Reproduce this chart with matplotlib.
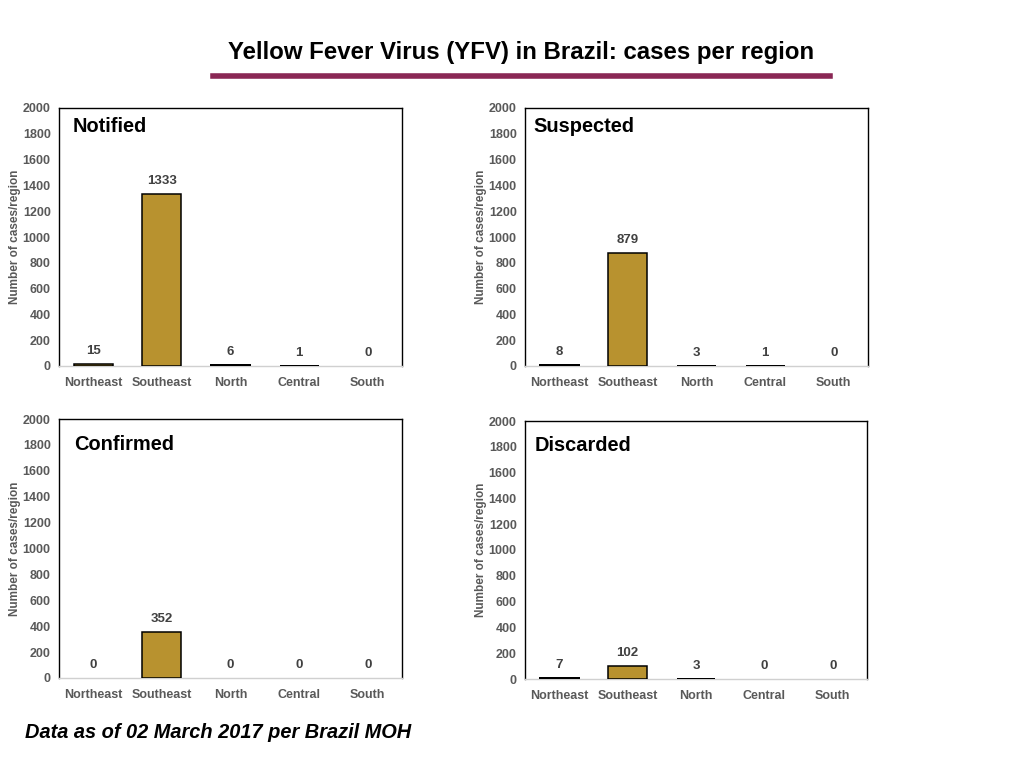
import matplotlib
matplotlib.use("Agg")
import matplotlib.pyplot as plt
from matplotlib.lines import Line2D

regions = ["Northeast", "Southeast", "North", "Central", "South"]
notified = [15, 1333, 6, 1, 0]
suspected = [8, 879, 3, 1, 0]
confirmed = [0, 352, 0, 0, 0]
discarded = [7, 102, 3, 0, 0]
yticks = list(range(0, 2001, 200))

title = "Yellow Fever Virus (YFV) in Brazil: cases per region"
footer = "Data as of 02 March 2017 per Brazil MOH"
ylabel = "Number of cases/region"

BAR = "#B8922F"
GREY = "#595959"
FONT = "Liberation Sans"

fig = plt.figure(figsize=(10.24, 7.68), dpi=100)

panels = [
    ("Notified", notified, [59, 108, 402, 366], (0.04, 0.93)),
    ("Suspected", suspected, [525, 108, 868, 366], (0.025, 0.93)),
    ("Confirmed", confirmed, [59, 419, 402, 678], (0.045, 0.90)),
    ("Discarded", discarded, [525, 421, 867, 679], (0.028, 0.905)),
]

W, H = 1024, 768
for name, vals, (x0, y0, x1, y1), (tx, ty) in panels:
    ax = fig.add_axes([x0 / W, 1 - y1 / H, (x1 - x0) / W, (y1 - y0) / H])
    xs = range(len(regions))
    bars = ax.bar(xs, vals, width=0.57, color=BAR, edgecolor="black", linewidth=1.1, zorder=3)
    for b, v in zip(bars, vals):
        if v == 0:
            b.set_visible(False)
        elif v < 10:
            b.set_antialiased(False)
        ax.annotate(str(v), (b.get_x() + b.get_width() / 2, v), xytext=(0, 5),
                    textcoords="offset points", ha="center", va="bottom",
                    fontsize=9.5, fontweight="bold", color="#404040", family=FONT)
    ax.set_ylim(0, 2000)
    ax.set_xlim(-0.5, 4.5)
    ax.set_yticks(yticks)
    ax.set_xticks(list(xs))
    ax.set_xticklabels(regions)
    ax.tick_params(axis="x", length=0, colors=GREY, labelsize=9, pad=8)
    ax.tick_params(axis="y", length=0, colors=GREY, labelsize=9, pad=6)
    for lab in ax.get_xticklabels() + ax.get_yticklabels():
        lab.set_fontweight("bold")
        lab.set_family(FONT)
    for s in ["left", "top", "right"]:
        ax.spines[s].set_color("black")
        ax.spines[s].set_linewidth(1.0)
    ax.spines["bottom"].set_color("#d0d0d0")
    ax.spines["bottom"].set_linewidth(1.0)
    ax.set_ylabel(ylabel, fontsize=8.5, fontweight="bold", color=GREY, family=FONT, labelpad=1)
    ax.text(tx, ty, name, transform=ax.transAxes, fontsize=14.4, fontweight="bold",
            ha="left", va="center", family=FONT, color="black")

fig.text(521 / W, 1 - 52 / H, title, ha="center", va="center", fontsize=17.3,
         fontweight="bold", family=FONT)
fig.add_artist(Line2D([213 / W, 830 / W], [1 - 76 / H, 1 - 76 / H], color="#8A2755",
                      linewidth=4, transform=fig.transFigure))
fig.text(25 / W, 1 - 733 / H, footer, ha="left", va="center", fontsize=14.4,
         fontweight="bold", style="italic", family=FONT)

fig.savefig("out.png", dpi=100)
